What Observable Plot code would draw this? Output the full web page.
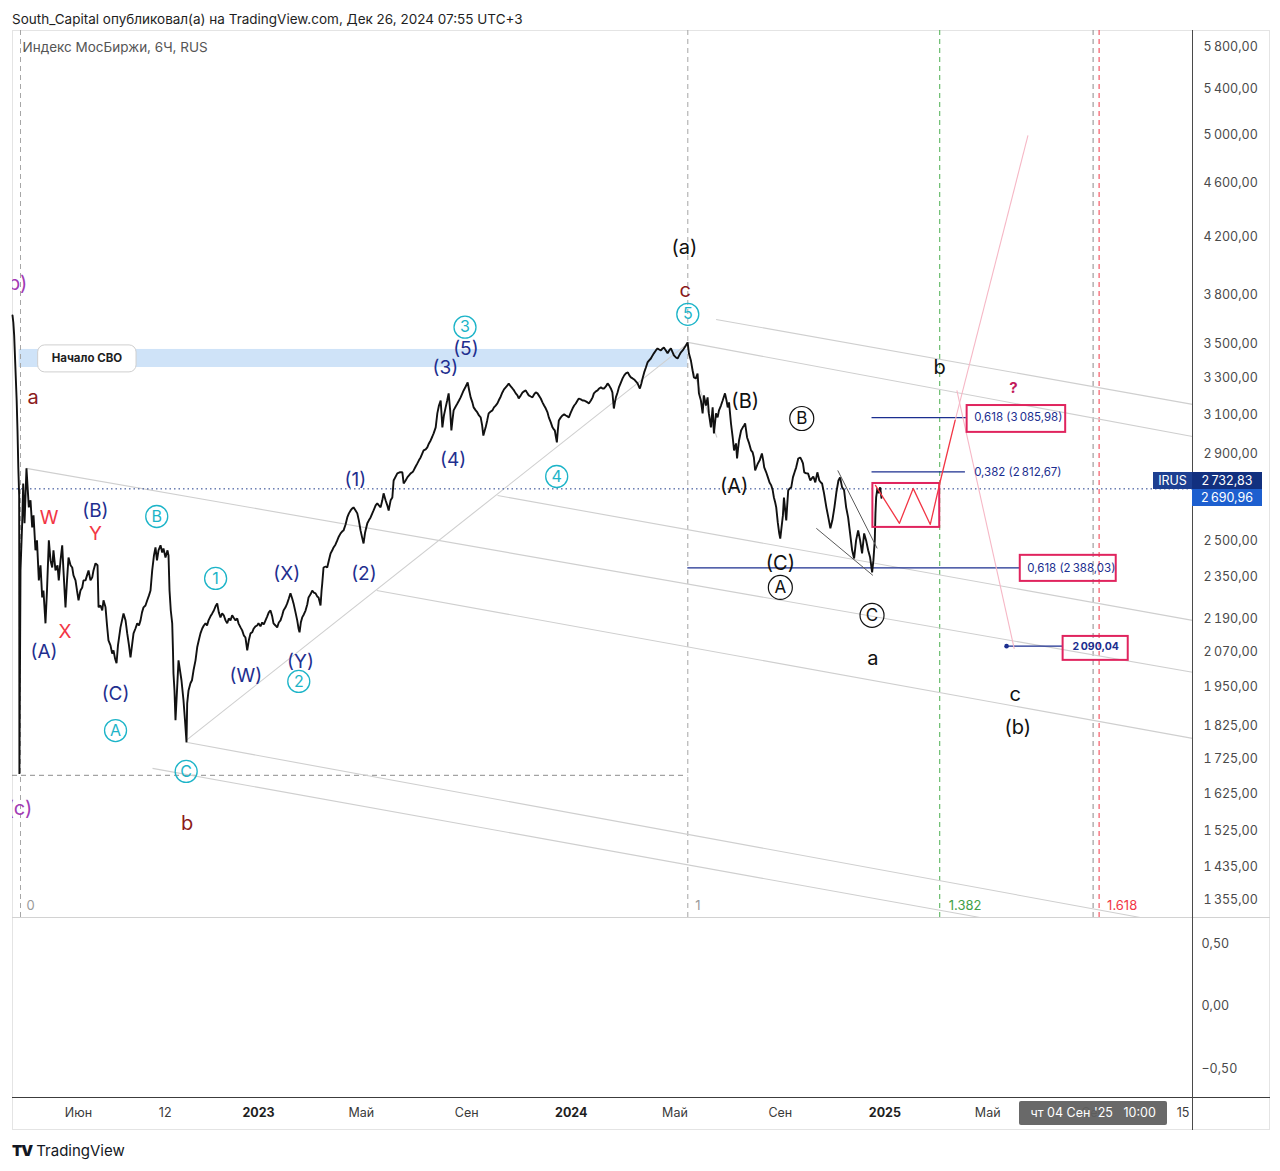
<!DOCTYPE html>
<html lang="ru">
<head>
<meta charset="utf-8">
<title>Индекс МосБиржи, 6Ч</title>
<script src="https://cdn.jsdelivr.net/npm/d3@7"></script>
<script src="https://cdn.jsdelivr.net/npm/@observablehq/plot@0.6"></script>
<style>
  html,body{margin:0;padding:0;background:#fff;}
  body{font-family:Inter,"Noto Sans","DejaVu Sans",sans-serif;}
  #page{position:relative;width:1280px;height:1171px;overflow:hidden;background:#fff;}
  #hdr{position:absolute;left:12px;top:11px;font-size:13.5px;color:#1e1e1e;white-space:nowrap;}
  #frame{position:absolute;left:12px;top:30px;width:1258px;height:1100px;border:1px solid #e4e4e4;box-sizing:border-box;}
  #main{position:absolute;left:0;top:30px;}
  #ind{position:absolute;left:0;top:917px;}
  .sep{position:absolute;}
  .tag{position:absolute;height:17px;line-height:17px;font-size:12.5px;color:#fff;box-sizing:border-box;white-space:nowrap;text-align:center;}
  #cross{position:absolute;height:24px;line-height:24px;font-size:12.5px;color:#fff;background:rgba(96,96,96,0.94);text-align:center;white-space:pre;border-radius:2px;}
  #footer{position:absolute;left:12px;top:1141px;font-size:15px;color:#131722;white-space:nowrap;}
  #footer b{font-weight:900;letter-spacing:-1px;margin-right:4px;}
</style>
</head>
<body>
<div id="page">
  <div id="hdr">South_Capital опубликовал(а) на TradingView.com, Дек 26, 2024 07:55 UTC+3</div>
  <div id="frame"></div>
  <div id="main"></div>
  <div id="ind"></div>
  <div id="footer"><b>TV</b>TradingView</div>
</div>
<script>
// ---------------- DATA ----------------
const subtitle = "Индекс МосБиржи, 6Ч, RUS";

// price series (6H chart): days after series start, close
const seriesStart = "2022-03-24";
const dayOffsets = [
-36,-35,-34,-31,-30,-29,-28,-27.7,
0,2.0,3.2,4.8,7.1,9.9,11.9,13.9,15.5,17.8,19.6,21.8,23.8,25.8,27.3,29.7,31.5,33.7,35.7,37.7,39.2,41.6,44.0,45.5,47.6,49.6,51.1,53.5,55.3,57.1,59.5,61.5,63.0,65.4,67.2,69.0,71.3,73.4,74.9,77.3,79.1,80.9,83.2,85.3,86.8,89.2,91.6,92.8,95.1,97.2,98.7,101.1,102.9,104.6,107.0,109.0,110.6,112.4,114.2,115.9,118.9,120.7,122.5,124.9,126.9,129.0,130.8,132.6,134.4,136.7,138.8,140.9,142.7,144.5,146.3,148.6,150.7,152.8,154.6,156.6,158.7,160.5,162.3,164.1,166.5,168.5,170.0,172.4,174.8,176.0,177.2,178.7,180.4,181.3,181.9,183.1,184.3,186.1,187.9,189.7,191.4,193.8,195.6,197.4,198.2,199.8,202.1,203.9,205.7,208.1,210.1,212.0,214.0,
216.1,218.0,220.0,221.8,223.6,225.9,228.0,229.9,231.9,233.9,235.8,237.8,239.8,241.7,243.8,245.8,247.7,249.7,251.7,253.3,255.7,257.7,259.2,261.6,263.6,265.5,267.5,269.6,271.5,273.5,275.5,277.4,279.4,281.4,283.0,285.3,287.3,289.2,291.2,293.2,295.0,297.0,299.0,300.5,302.8,304.8,306.7,308.7,310.7,312.2,314.5,316.5,318.4,320.3,322.3,323.9,326.2,328.2,329.7,330.9,332.4,334.0,335.9,337.9,339.9,341.4,343.7,345.7,347.6,349.6,351.5,353.1,354.2,355.4,356.6,357.4,358.9,361.3,363.2,365.1,367.1,369.1,370.6,372.9,374.9,376.8,378.8,380.8,382.3,384.6,386.6,388.5,390.5,392.4,393.9,396.3,398.3,400.1,402.1,403.9,405.6,407.4,410.0,411.8,413.8,415.8,417.3,419.7,421.6,423.5,425.5,427.5,429.0,431.3,433.3,434.9,437.2,439.2,440.7,445.0,
447.7,450.9,452.4,454.7,456.7,458.6,460.6,462.5,464.1,466.4,468.4,470.2,472.2,474.2,475.7,478.1,480.0,481.9,483.9,485.9,487.4,489.8,491.7,493.6,495.6,497.6,499.4,501.4,503.2,504.9,506.7,508.1,509.6,510.7,513.1,515.1,517.0,518.9,520.9,522.4,524.8,527.1,528.9,530.6,532.6,534.1,536.5,538.4,540.3,542.3,544.0,545.4,547.0,548.1,549.9,551.6,554.0,556.0,557.8,559.8,561.8,563.3,565.7,567.6,569.5,571.5,573.5,575.0,577.4,579.4,581.2,583.2,585.2,586.7,589.1,591.1,592.9,594.9,596.9,598.4,600.7,602.7,604.6,606.6,608.6,610.1,612.4,614.4,616.3,618.3,620.3,621.8,624.1,626.1,627.7,628.8,630.0,631.2,632.3,633.5,635.8,637.8,639.7,641.7,643.6,645.2,647.5,649.5,651.4,653.3,655.3,656.8,659.2,661.2,663.0,665.0,667.0,668.5,670.9,
672.9,674.4,676.7,678.7,680.6,682.6,684.5,686.4,688.4,690.4,692.2,694.2,696.0,697.7,698.9,700.1,702.0,703.6,705.9,707.9,709.8,711.7,714.1,715.8,717.6,719.6,721.4,723.4,725.4,726.9,728.1,729.8,731.2,733.1,735.1,737.0,738.9,740.9,742.9,744.4,746.7,748.7,750.6,752.6,754.6,756.1,758.4,760.4,762.3,764.3,766.3,767.8,770.1,772.1,774.0,776.0,778.0,779.5,781.8,783.8,
785.3,787.6,789.6,791.1,793.5,795.4,797.0,799.3,801.3,802.8,805.2,807.1,808.6,811.0,813.0,814.5,816.9,818.8,820.4,822.7,824.7,826.2,827.4,829.2,830.6,832.1,834.4,836.4,838.0,840.3,841.5,842.7,843.8,846.2,848.2,849.7,850.9,853.2,855.6,857.9,859.7,861.1,862.6,864.4,865.8,867.9,870.5,872.0,873.2,875.5,877.5,879.4,881.4,883.1,884.5,886.0,887.2,889.0,890.7,891.9,
893.0,895.0,896.2,897.7,898.9,900.0,901.2,903.0,904.7,906.7,908.6,910.5,912.9,915.2,917.0,918.4,919.9,922.3,924.3,925.8,927.0,928.7,930.5,932.8,935.2,937.5,939.3,940.7,943.0,945.7,948.0,950.4,952.7,955.1,957.4,959.8,961.7,964.1,966.4,968.8,971.1,973.4,975.8,978.1,980.4,982.8,985.1,987.4,989.8,992.1,994.5,996.8,999.1,1000.6,1002.2,1003.0,1003.8,1005.3,1006.9,1008.5,1010.0
];
const closes = [
3673,3629,3550,3177,3019,2830,2700,1681,
2378,2577,2758,2577,2830,2648,2680,2559,2612,2461,2503,2338,2399,2271,2298,2173,2298,2503,2419,2390,2461,2378,2399,2338,2419,2482,2378,2233,2338,2431,2399,2390,2358,2338,2298,2260,2298,2310,2338,2338,2358,2378,2338,2350,2378,2407,2399,2233,2240,2221,2260,2233,2165,2111,2093,2064,2075,2047,2030,2093,2158,2184,2210,2184,2136,2093,2050,2093,2136,2154,2173,2165,2184,2214,2233,2240,2260,2279,2298,2378,2440,2473,2419,2461,2482,2452,2469,2431,2461,2440,2298,2221,2173,2075,1995,1938,1842,1938,2040,2005,1972,1906,1842,1774,1896,1938,1962,1972,2005,2040,2086,2111,2136,
2154,2165,2173,2165,2184,2199,2210,2221,2237,2248,2214,2195,2210,2203,2184,2173,2191,2184,2203,2195,2184,2191,2173,2158,2147,2129,2121,2075,2111,2136,2140,2154,2162,2165,2173,2162,2176,2169,2184,2199,2214,2221,2199,2173,2165,2158,2176,2184,2203,2221,2233,2248,2267,2287,2267,2248,2214,2184,2154,2140,2176,2195,2206,2221,2244,2271,2283,2298,2290,2287,2275,2271,2256,2240,2298,2326,2390,2394,2390,2419,2448,2461,2473,2486,2503,2520,2533,2542,2546,2572,2603,2621,2634,2643,2648,2634,2621,2590,2546,2516,2490,2537,2577,2590,2603,2621,2634,2657,2666,2657,2648,2680,2712,2680,2657,2634,2680,2693,2772,2806,
2811,2811,2758,2772,2787,2796,2806,2811,2820,2839,2854,2869,2883,2903,2918,2923,2933,2953,2968,2988,3004,3035,3108,3150,3177,3035,3097,3140,3177,3216,3124,3019,3081,3124,3145,3161,3177,3194,3216,3232,3254,3276,3232,3194,3167,3140,3124,3113,3097,3087,3045,2993,3019,3035,3071,3108,3118,3124,3140,3150,3161,3177,3199,3221,3238,3249,3260,3271,3254,3243,3232,3216,3205,3188,3205,3221,3227,3232,3216,3205,3199,3194,3210,3221,3216,3205,3188,3167,3150,3134,3113,3087,3061,3035,3024,3019,2988,2958,3019,3071,3087,3097,3103,3097,3092,3087,3113,3134,3150,3161,3177,3188,3183,3177,3177,3172,3167,3161,3177,
3194,3216,3227,3232,3243,3249,3243,3243,3254,3271,3260,3243,3221,3134,3167,3194,3221,3249,3276,3299,3316,3327,3333,3316,3305,3299,3293,3282,3271,3254,3243,3271,3299,3333,3361,3390,3402,3413,3431,3443,3460,3472,3466,3460,3472,3478,3460,3443,3460,3472,3449,3431,3419,3413,3431,3449,3460,3472,3490,3508,
3443,3402,3344,3305,3299,3327,3216,3177,3108,3205,3150,3194,3108,3035,3140,3004,3108,3087,3124,3150,3177,3199,3216,3177,3140,3167,3055,2983,2918,2953,2878,2928,2968,3019,3035,3045,3055,2983,2953,2918,2908,2883,2820,2839,2854,2869,2903,2869,2835,2811,2787,2763,2749,2726,2693,2670,2648,2581,2533,2511,
2546,2612,2693,2634,2590,2657,2726,2735,2740,2787,2811,2835,2878,2883,2869,2854,2811,2806,2806,2787,2772,2782,2791,2763,2811,2772,2763,2758,2712,2648,2603,2555,2590,2648,2717,2772,2787,2740,2726,2648,2603,2533,2461,2427,2503,2546,2503,2448,2533,2503,2461,2431,2370,2419,2503,2621,2693,2735,2712,2740,2690.96
];
const irusPrice = 2732.83;
const lastPrice = 2690.96;

// price axis (log) ticks
const priceTicks = [5800,5400,5000,4600,4200,3800,3500,3300,3100,2900,2500,2350,2190,2070,1950,1825,1725,1625,1525,1435,1355];
const priceTickLabels = ["5\u2009800,00","5\u2009400,00","5\u2009000,00","4\u2009600,00","4\u2009200,00","3\u2009800,00","3\u2009500,00","3\u2009300,00","3\u2009100,00","2\u2009900,00","2\u2009500,00","2\u2009350,00","2\u2009190,00","2\u2009070,00","1\u2009950,00","1\u2009825,00","1\u2009725,00","1\u2009625,00","1\u2009525,00","1\u2009435,00","1\u2009355,00"];
const oscTicks = [0.5, 0, -0.5];
const oscTickLabels = ["0,50","0,00","\u22120,50"];

// time axis
const timeTickDates = ["2022-06-01","2022-09-12","2023-01-01","2023-05-01","2023-09-01","2024-01-01","2024-05-01","2024-09-01","2025-01-01","2025-05-01","2025-09-01","2025-12-15"];
const timeTickLabels = ["Июн","12","2023","Май","Сен","2024","Май","Сен","2025","Май","Сен","15"];
const crosshairDate = "2025-09-04";
const crosshairText = "чт 04 Сен '25   10:00";

// Elliott wave labels: [text, date, price]
const blackLabels = [["(a)","2024-05-12",4124],["(B)","2024-07-22",3172],["(A)","2024-07-09",2744],["(C)","2024-09-01",2407],["a","2024-12-18",2047],["b","2025-03-06",3361],["c","2025-06-02",1925],["(b)","2025-06-05",1820]];
const blackCircled = [["B","2024-09-26",3081],["A","2024-09-01",2310],["C","2024-12-17",2203]];
const navyLabels = [["(B)","2022-06-21",2634],["(A)","2022-04-21",2071],["(C)","2022-07-15",1928],["(W)","2022-12-17",1988],["(X)","2023-02-03",2366],["(Y)","2023-02-19",2036],["(1)","2023-04-24",2777],["(2)","2023-05-04",2362],["(3)","2023-08-07",3361],["(4)","2023-08-16",2869],["(5)","2023-08-31",3470]];
const tealCircled = [["B","2022-09-02",2607],["A","2022-07-15",1810],["C","2022-10-07",1688],["1","2022-11-11",2346],["2","2023-02-17",1968],["3","2023-08-30",3600],["4","2023-12-15",2791],["5","2024-05-16",3680]];
const redLetters = [["W","2022-04-27",2599],["Y","2022-06-21",2529],["X","2022-05-16",2140]];
const maroonLetters = [["a","2022-04-08",3194],["b","2022-10-08",1545],["c","2024-05-13",3832]];
const purpleLabels = [["(b)","2022-04-01",3879],["(c)","2022-04-07",1585]];
const questionMark = [["?","2025-05-31",3243]];

// drawings
const svoBand = [{start:"2022-02-24", end:"2024-05-16", low:3361, high:3466}];
const svoCallout = [{start:"2022-04-14", end:"2022-08-09", low:3333, high:3490, mid:"2022-06-11", price:3413, text:"Начало СВО"}];
const lowLevel = [{start:"2022-02-16", end:"2024-05-16", price:1677}];
// fib time zones
const fibTimeDates = ["2022-03-24","2024-05-16","2025-03-06","2025-09-08"];
const fibTimeLabels = ["0","1","1.382","1.618"];
const extraTimeLine = ["2025-09-01"];
// channel / trend lines: [date1, price1, date2, price2]
const channelLines = [
  ["2024-06-18",3648,"2025-12-26",3156],
  ["2024-05-16",3508,"2025-12-26",2988],
  ["2022-03-31",2830,"2025-12-26",1999],
  ["2023-10-07",2702,"2025-12-26",2184],
  ["2023-05-19",2298,"2025-12-26",1786],
  ["2022-08-28",1697,"2025-04-22",1316],
  ["2022-10-07",1774,"2025-10-26",1316],
  ["2022-10-07",1780,"2024-05-16",3502],
  ["2024-05-20",3373,"2024-06-19",2983]
];
const wedgeLines = [["2024-11-07",2820,"2024-12-23",2469],["2024-10-13",2555,"2024-12-18",2358]];
const pinkLines = [["2025-03-24",3071,"2025-06-17",4992],["2025-03-26",3232,"2025-06-01",2080]];
// projected path inside the box
const zigzagDates = ["2024-12-21","2025-01-18","2025-02-03","2025-02-23","2025-03-06","2025-03-24"];
const zigzagPrices = [2749,2577,2735,2572,2758,3071];
const redBox = [["2024-12-18","2025-03-06",2559,2758]];
// fibonacci price levels: [date from, date to, price]
const fibSegments = [["2024-12-17","2025-04-06",3085.98],["2024-12-17","2025-04-05",2812.67],["2024-05-16","2025-06-08",2388.03],["2025-05-23","2025-07-28",2090.04]];
const fibTexts = [["0,618 (3\u2009085,98)","2025-04-07",3085.98],["0,382 (2\u2009812,67)","2025-04-07",2812.67],["0,618 (2\u2009388,03)","2025-06-08",2388.03]];
const targetText = [["2\u2009090,04","2025-09-04",2090.04]];
const targetDot = [["2025-05-23",2090.04]];
const pinkBoxes = [["2025-04-07","2025-07-31",3009,3150],["2025-06-08","2025-09-28",2334,2440],["2025-07-28","2025-10-12",2040,2125]];

// ---------------- SCALES ----------------
const D = s => new Date(s + "T00:00:00Z");
const X_DOMAIN = ["2022-02-16","2022-02-25","2022-03-24","2023-01-01","2025-12-26"].map(D);
const X_RANGE = [12, 19.5, 20, 258, 1192];
const FONT = "Inter, 'Noto Sans', 'DejaVu Sans', sans-serif";

const base = D(seriesStart).getTime();
const series = dayOffsets.map((d, i) => ({date: new Date(base + d * 864e5), close: closes[i]}));
const zigzag = zigzagDates.map((d, i) => ({date: D(d), price: zigzagPrices[i]}));

const NAVY = "#1f2f8f", TEAL = "#1cb4c8", PINK = "#e0245e", FIBBLUE = "#1b2e8f";

const lbl = (arr, opts) => Plot.text(arr, {x: d => D(d[1]), y: d => d[2], text: d => d[0], fontFamily: FONT, ...opts});
const circ = (arr, opts) => Plot.dot(arr, {x: d => D(d[1]), y: d => d[2], fill: "none", ...opts});
const lnk = (arr, opts) => Plot.link(arr, {x1: d => D(d[0]), y1: d => d[1], x2: d => D(d[2]), y2: d => d[3], ...opts});

const main = Plot.plot({
  width: 1280, height: 887,
  marginLeft: 12, marginRight: 88, marginTop: 0, marginBottom: 0,
  x: {type: "utc", domain: X_DOMAIN, range: X_RANGE, axis: null},
  y: {type: "log", domain: [1316, 5970], axis: "right", ticks: priceTicks,
      tickFormat: d => priceTickLabels[priceTicks.indexOf(d)], tickSize: 0, tickPadding: 11, label: null},
  style: {fontFamily: FONT, fontSize: "12.5px", color: "#4a4a4a", background: "transparent", overflow: "visible"},
  marks: [
    Plot.rect(svoBand, {x1: d => D(d.start), x2: d => D(d.end), y1: "low", y2: "high", fill: "#cfe3f8"}),
    Plot.ruleX(fibTimeDates.slice(0, 2), {x: D, stroke: "#a6a6a6", strokeDasharray: "5,4"}),
    Plot.ruleX([fibTimeDates[2]], {x: D, stroke: "#4caf50", strokeDasharray: "5,4"}),
    Plot.ruleX(extraTimeLine, {x: D, stroke: "#8a8a8a", strokeDasharray: "5,4"}),
    Plot.ruleX([fibTimeDates[3]], {x: D, stroke: "#f23645", strokeDasharray: "5,4"}),
    Plot.ruleY(lowLevel, {y: "price", x1: d => D(d.start), x2: d => D(d.end), stroke: "#8c8c8c", strokeDasharray: "5,4"}),
    lnk(channelLines, {stroke: "#cfcfcf", strokeWidth: 1.1}),
    Plot.ruleY([irusPrice], {stroke: "#1e3a8a", strokeDasharray: "1.5,3"}),
    Plot.ruleY(fibSegments, {y: d => d[2], x1: d => D(d[0]), x2: d => D(d[1]), stroke: FIBBLUE, strokeWidth: 1.2}),
    lnk(pinkLines, {stroke: "#f6b8c6", strokeWidth: 1.1}),
    Plot.line(series, {x: "date", y: "close", stroke: "#111", strokeWidth: 1.9, strokeLinejoin: "miter"}),
    lnk(wedgeLines, {stroke: "#5a5a5a", strokeWidth: 1}),
    Plot.rect(redBox, {x1: d => D(d[0]), x2: d => D(d[1]), y1: d => d[2], y2: d => d[3], fill: "none", stroke: PINK, strokeWidth: 2}),
    Plot.line(zigzag, {x: "date", y: "price", stroke: "#f23645", strokeWidth: 1.3}),
    Plot.rect(pinkBoxes, {x1: d => D(d[0]), x2: d => D(d[1]), y1: d => d[2], y2: d => d[3], fill: "none", stroke: PINK, strokeWidth: 2}),
    Plot.dot(targetDot, {x: d => D(d[0]), y: d => d[1], r: 2.3, fill: FIBBLUE}),
    Plot.rect(svoCallout, {x1: d => D(d.start), x2: d => D(d.end), y1: "low", y2: "high", fill: "#fff", stroke: "#cfcfcf", rx: 7}),
    Plot.text(svoCallout, {x: d => D(d.mid), y: "price", text: "text", fontWeight: 700, fontSize: 11.5, fill: "#1e1e1e", fontFamily: FONT}),
    Plot.text([subtitle], {frameAnchor: "top-left", dx: 10, dy: 12, text: d => d, textAnchor: "start", fill: "#555", fontSize: 13.5, fontFamily: FONT}),
    // fib time zone labels
    Plot.text(fibTimeDates.slice(0, 2), {x: D, frameAnchor: "bottom", dy: -8, dx: 10, text: (d, i) => fibTimeLabels[i], fill: "#9a9a9a", fontSize: 13, fontFamily: FONT}),
    Plot.text([fibTimeDates[2]], {x: D, frameAnchor: "bottom", dy: -8, dx: 9, textAnchor: "start", text: () => fibTimeLabels[2], fill: "#43a047", fontSize: 13, fontFamily: FONT}),
    Plot.text([fibTimeDates[3]], {x: D, frameAnchor: "bottom", dy: -8, dx: 8, textAnchor: "start", text: () => fibTimeLabels[3], fill: "#f23645", fontSize: 13, fontFamily: FONT}),
    // fib price texts
    lbl(fibTexts, {textAnchor: "start", dx: 7, fill: FIBBLUE, fontSize: 11.5}),
    lbl(targetText, {fill: FIBBLUE, fontSize: 10.5, fontWeight: 700}),
    // wave labels
    lbl(purpleLabels, {textAnchor: "end", fill: "#a23bb5", fontSize: 20, clip: true}),
    lbl(maroonLetters, {fill: "#8b1a1a", fontSize: 20}),
    lbl(redLetters, {fill: "#f23645", fontSize: 19}),
    lbl(navyLabels, {fill: NAVY, fontSize: 19}),
    circ(tealCircled, {r: 11, stroke: TEAL, strokeWidth: 1.3}),
    lbl(tealCircled, {fill: TEAL, fontSize: 16}),
    lbl(blackLabels, {fill: "#111", fontSize: 20}),
    circ(blackCircled, {r: 12, stroke: "#111", strokeWidth: 1.2}),
    lbl(blackCircled, {fill: "#111", fontSize: 17}),
    lbl(questionMark, {fill: "#c2185b", fontSize: 15, fontWeight: 700})
  ]
});
document.getElementById("main").appendChild(main);

const isYear = s => /^\d{4}$/.test(s);
const timeTicks = timeTickDates.map((d, i) => ({date: D(d), label: timeTickLabels[i]}));
const ind = Plot.plot({
  width: 1280, height: 213,
  marginLeft: 12, marginRight: 88, marginTop: 0, marginBottom: 33,
  x: {type: "utc", domain: X_DOMAIN, range: X_RANGE, axis: null},
  y: {domain: [-0.728, 0.708], axis: "right", ticks: oscTicks,
      tickFormat: d => oscTickLabels[oscTicks.indexOf(d)], tickSize: 0, tickPadding: 9, label: null},
  style: {fontFamily: FONT, fontSize: "12.5px", color: "#4a4a4a", background: "transparent", overflow: "visible"},
  marks: [
    Plot.text(timeTicks.filter(d => !isYear(d.label)), {x: "date", text: "label", frameAnchor: "bottom", dy: 19, fill: "#3a3a3a", fontSize: 12.5, fontFamily: FONT}),
    Plot.text(timeTicks.filter(d => isYear(d.label)), {x: "date", text: "label", frameAnchor: "bottom", dy: 19, fill: "#1e1e1e", fontSize: 12.5, fontWeight: 700, fontFamily: FONT})
  ]
});
document.getElementById("ind").appendChild(ind);

// ---------------- OVERLAYS ----------------
const page = document.getElementById("page");
function addDiv(cls, css, text) {
  const el = document.createElement("div");
  if (cls) el.className = cls;
  Object.assign(el.style, css);
  if (text != null) el.textContent = text;
  page.appendChild(el);
  return el;
}
addDiv("sep", {left: "12px", top: "917px", width: "1258px", height: "1px", background: "#d2d2d2"});
addDiv("sep", {left: "12px", top: "1097px", width: "1258px", height: "1px", background: "#3c3c3c"});
addDiv("sep", {left: "1192px", top: "30px", width: "1px", height: "1100px", background: "#4a4a4a"});

const ys = main.scale("y"), xs = main.scale("x");
const yIrus = 30 + ys.apply(irusPrice);
const yLast = 30 + ys.apply(lastPrice);
addDiv("tag", {left: "1153px", top: (yIrus - 16) + "px", width: "39px", background: "#1d3f91"}, "IRUS");
addDiv("tag", {left: "1192px", top: (yIrus - 16) + "px", width: "70px", background: "#12307f"}, "2\u2009732,83");
addDiv("tag", {left: "1192px", top: (yLast - 8) + "px", width: "70px", background: "#1d5fcf"}, "2\u2009690,96");

const cx = xs.apply(D(crosshairDate));
const cross = addDiv(null, {left: (cx - 76) + "px", top: "1101px", width: "148px"}, crosshairText);
cross.id = "cross";
</script>
</body>
</html>
